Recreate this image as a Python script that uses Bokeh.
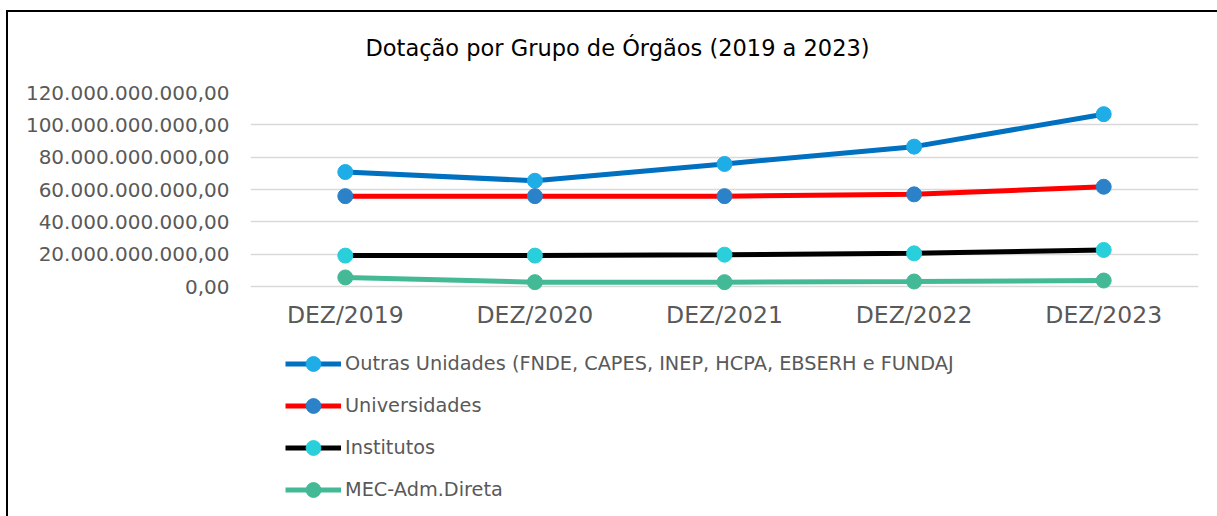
from bokeh.plotting import figure
from bokeh.models import FixedTicker, Legend, LegendItem, ColumnDataSource
from bokeh.embed import file_html
from bokeh.resources import INLINE

# ---- data ----
categories = ["DEZ/2019", "DEZ/2020", "DEZ/2021", "DEZ/2022", "DEZ/2023"]
outras = [70.8e9, 65.4e9, 75.8e9, 86.5e9, 106.6e9]
universidades = [55.9e9, 55.9e9, 55.9e9, 57.0e9, 61.7e9]
institutos = [19.1e9, 19.1e9, 19.7e9, 20.5e9, 22.6e9]
mec = [5.6e9, 2.7e9, 2.7e9, 3.1e9, 3.7e9]
series_names = [
    "Outras Unidades (FNDE, CAPES, INEP, HCPA, EBSERH e FUNDAJ",
    "Universidades",
    "Institutos",
    "MEC-Adm.Direta",
]
y_ticks = [0, 20e9, 40e9, 60e9, 80e9, 100e9, 120e9]
y_tick_labels = ["0,00", "20.000.000.000,00", "40.000.000.000,00", "60.000.000.000,00",
                 "80.000.000.000,00", "100.000.000.000,00", "120.000.000.000,00"]
title_text = "Dotação por Grupo de Órgãos (2019 a 2023)"

FONT = "DejaVu Sans"
W, H = 1217, 516
TOP, ZERO_Y = 92, 286           # pixel rows of the 120 bn and 0 gridlines
y_top = 120e9
y_bottom = -y_top * (H - ZERO_Y) / (ZERO_Y - TOP)   # frame extends below zero for the legend

p = figure(width=W, height=H, x_range=categories, y_range=(y_bottom, y_top),
           output_backend="svg", toolbar_location=None,
           min_border_left=250, min_border_right=19, min_border_top=TOP, min_border_bottom=0)
p.border_fill_color = None
p.background_fill_color = "white"
p.outline_line_color = None
p.styles = {"box-shadow": "inset 6px 10px 0 0 white, inset 8px 12px 0 0 black"}

p.title.text = title_text
p.title.align = "left"
p.title.offset = 115
p.title.standoff = 64
p.title.text_font = FONT
p.title.text_font_size = "22.5px"
p.title.text_font_style = "normal"
p.title.text_color = "#000000"

series = [outras, universidades, institutos, mec]
line_colors = ["#0070C0", "#FF0000", "#000000", "#44B995"]
marker_colors = ["#1EADE6", "#2B82C8", "#29CFDA", "#44B995"]

items = []
for name, vals, lc, mc in zip(series_names, series, line_colors, marker_colors):
    src = ColumnDataSource(dict(x=categories, y=vals))
    lr = p.line("x", "y", source=src, line_color=lc, line_width=5)
    sr = p.scatter("x", "y", source=src, size=15, fill_color=mc, line_color=mc)
    items.append(LegendItem(label=name, renderers=[lr, sr]))

legend = Legend(items=items, location=(35, 8), padding=0, margin=0,
                border_line_color=None, background_fill_alpha=0,
                glyph_width=56, glyph_height=37, label_height=20, spacing=5,
                label_standoff=4, label_text_font=FONT, label_text_font_size="19.3px",
                label_text_color="#595959")
p.add_layout(legend, "center")

p.yaxis.ticker = FixedTicker(ticks=y_ticks)
p.yaxis.major_label_overrides = {t: l for t, l in zip(y_ticks, y_tick_labels)}
p.xaxis.fixed_location = 0
for ax in (p.xaxis[0], p.yaxis[0]):
    ax.axis_line_color = None
    ax.major_tick_line_color = None
    ax.minor_tick_line_color = None
    ax.major_label_text_font = FONT
    ax.major_label_text_color = "#595959"
p.yaxis.major_label_text_font_size = "20px"
p.xaxis.major_label_text_font_size = "23.5px"
p.yaxis.major_label_standoff = 15
p.xaxis.major_label_standoff = 8

p.xgrid.grid_line_color = None
p.ygrid.grid_line_color = "#D9D9D9"
p.ygrid.grid_line_width = 1.5

open("out.html", "w").write(file_html(p, INLINE))
